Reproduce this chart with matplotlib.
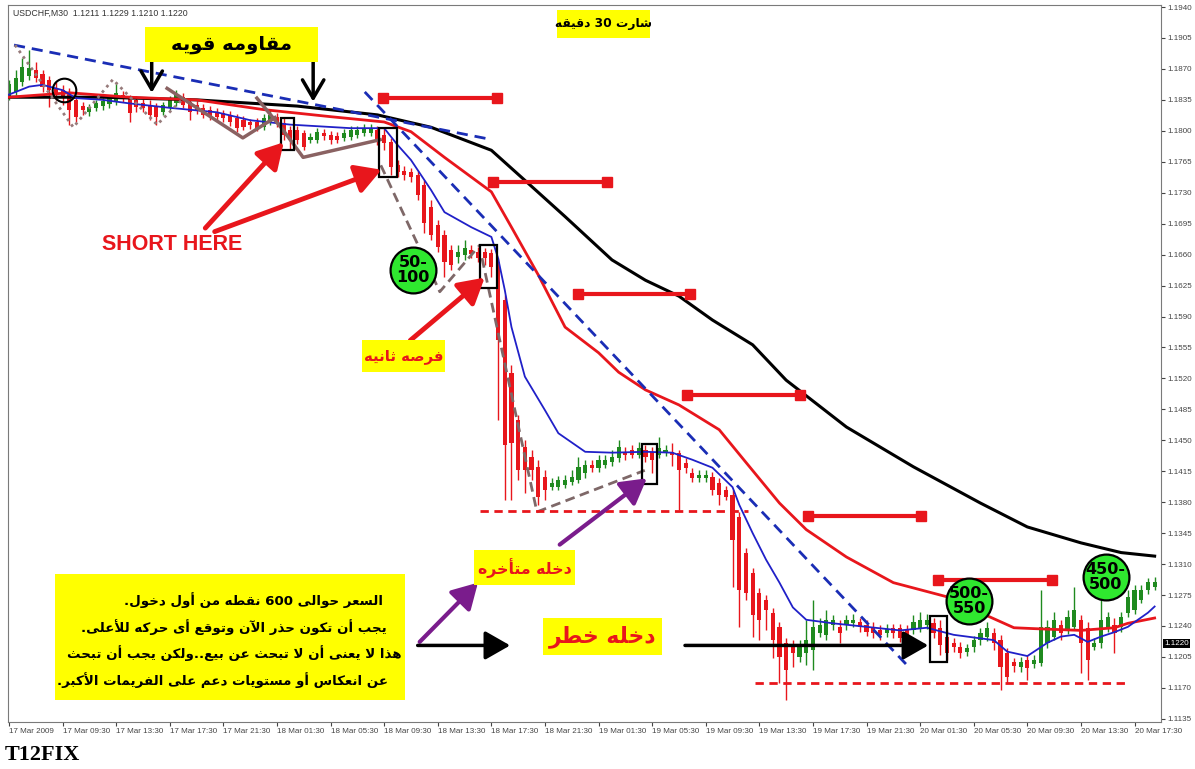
import matplotlib
matplotlib.use("Agg")
import matplotlib.pyplot as plt
import matplotlib.transforms as mtransforms
from matplotlib.patches import Rectangle
import numpy as np

plt.rcParams["font.family"] = ["DejaVu Sans"]

# --- USDCHF M30 candles (prices in points, /1e4 below) ----------------------
bar_open = [
    11837, 11844, 11855, 11862, 11869, 11864, 11857, 11848, 11846, 11842, 11835,
    11828, 11821, 11826, 11828, 11830, 11833, 11841, 11837,
    11835, 11831, 11829, 11827, 11821, 11827, 11831, 11838, 11833, 11829, 11826,
    11824, 11821, 11820, 11818, 11814, 11812, 11810, 11810,
    11804, 11810, 11816, 11809, 11801, 11801, 11798, 11790, 11790, 11798, 11795,
    11794, 11792, 11793, 11795, 11798, 11798,
    11801, 11795, 11787, 11761, 11755, 11753, 11750, 11739, 11714, 11693, 11682,
    11665, 11657, 11660, 11665, 11663, 11663, 11662, 11652, 11609, 11526, 11473,
    11442, 11431, 11420, 11409,
    11397, 11397, 11400, 11403, 11405, 11413, 11422, 11419, 11422, 11425, 11430,
    11437, 11439, 11433, 11439, 11437, 11433, 11437, 11437, 11436, 11424, 11413,
    11407, 11407, 11409, 11402,
    11394, 11388, 11363, 11323, 11300, 11277, 11269, 11255, 11239, 11221, 11216,
    11205, 11209, 11213, 11232, 11230, 11241, 11239, 11241, 11243, 11245, 11241,
    11239, 11235, 11232, 11238, 11238, 11235, 11235, 11238, 11241, 11243, 11238,
    11228, 11221, 11216, 11211, 11216, 11224, 11228, 11232, 11224, 11209, 11199,
    11194, 11202, 11197, 11198, 11221, 11228, 11241, 11235, 11239, 11247, 11238,
    11216, 11221, 11239, 11241, 11239, 11255, 11258, 11269, 11281, 11284,
]
bar_close = [
    11853, 11860, 11872, 11871, 11860, 11850, 11846, 11841, 11837, 11824, 11816,
    11824, 11827, 11831, 11834, 11837, 11843, 11837, 11820,
    11827, 11826, 11818, 11816, 11829, 11835, 11841, 11829, 11821, 11824, 11818,
    11817, 11816, 11814, 11810, 11803, 11804, 11807, 11803,
    11814, 11818, 11809, 11795, 11790, 11790, 11782, 11793, 11799, 11794, 11790,
    11790, 11798, 11801, 11801, 11803, 11803,
    11790, 11786, 11759, 11753, 11750, 11748, 11727, 11696, 11682, 11669, 11652,
    11648, 11663, 11667, 11661, 11656, 11656, 11646, 11563, 11445, 11447, 11416,
    11416, 11416, 11386, 11394,
    11402, 11405, 11405, 11409, 11420, 11422, 11419, 11428, 11428, 11431, 11442,
    11433, 11433, 11441, 11431, 11428, 11441, 11439, 11433, 11416, 11419, 11407,
    11411, 11411, 11394, 11388,
    11386, 11337, 11281, 11277, 11252, 11247, 11258, 11224, 11205, 11190, 11209,
    11216, 11224, 11239, 11241, 11247, 11247, 11232, 11247, 11247, 11239, 11233,
    11232, 11230, 11237, 11232, 11226, 11226, 11245, 11247, 11247, 11232, 11218,
    11209, 11216, 11209, 11215, 11224, 11232, 11238, 11221, 11194, 11182, 11195,
    11199, 11192, 11202, 11239, 11239, 11247, 11232, 11250, 11258, 11221, 11202,
    11221, 11247, 11250, 11232, 11250, 11273, 11281, 11281, 11290, 11290,
]
bar_high = [
    11857, 11869, 11882, 11891, 11878, 11869, 11862, 11855, 11852, 11848, 11841,
    11833, 11830, 11835, 11837, 11841, 11855, 11845, 11841,
    11839, 11836, 11835, 11831, 11833, 11839, 11846, 11843, 11837, 11834, 11830,
    11828, 11826, 11824, 11822, 11819, 11817, 11813, 11814,
    11819, 11824, 11820, 11814, 11805, 11805, 11801, 11798, 11803, 11802, 11800,
    11799, 11802, 11805, 11805, 11808, 11808,
    11805, 11803, 11792, 11767, 11760, 11758, 11755, 11744, 11722, 11699, 11688,
    11671, 11671, 11676, 11671, 11669, 11668, 11666, 11656, 11614, 11535, 11479,
    11450, 11439, 11428, 11416,
    11407, 11410, 11411, 11416, 11431, 11428, 11428, 11433, 11433, 11439, 11450,
    11442, 11445, 11448, 11445, 11442, 11454, 11445, 11447, 11439, 11430, 11419,
    11416, 11416, 11414, 11407,
    11398, 11394, 11369, 11328, 11306, 11283, 11275, 11260, 11245, 11226, 11224,
    11224, 11247, 11269, 11249, 11258, 11252, 11247, 11252, 11254, 11249, 11247,
    11245, 11241, 11242, 11242, 11242, 11241, 11252, 11256, 11254, 11249, 11247,
    11235, 11226, 11222, 11220, 11229, 11238, 11245, 11238, 11230, 11215, 11204,
    11205, 11207, 11207, 11281, 11247, 11256, 11247, 11258, 11284, 11252, 11245,
    11226, 11283, 11256, 11249, 11256, 11281, 11286, 11286, 11294, 11295,
]
bar_low = [
    11835, 11841, 11851, 11857, 11855, 11844, 11827, 11835, 11829, 11807, 11810,
    11818, 11817, 11822, 11824, 11826, 11829, 11833, 11810,
    11821, 11821, 11812, 11807, 11818, 11824, 11828, 11826, 11812, 11819, 11814,
    11812, 11811, 11810, 11805, 11799, 11801, 11802, 11800,
    11801, 11807, 11804, 11790, 11778, 11785, 11778, 11786, 11786, 11790, 11785,
    11786, 11788, 11790, 11792, 11794, 11794,
    11784, 11778, 11750, 11748, 11744, 11742, 11722, 11684, 11676, 11663, 11635,
    11643, 11651, 11654, 11656, 11652, 11648, 11635, 11473, 11382, 11382, 11405,
    11390, 11405, 11377, 11382,
    11394, 11394, 11396, 11399, 11402, 11407, 11414, 11414, 11419, 11421, 11425,
    11428, 11430, 11430, 11425, 11413, 11430, 11432, 11421, 11371, 11413, 11403,
    11403, 11403, 11388, 11377,
    11382, 11284, 11239, 11269, 11228, 11224, 11235, 11204, 11175, 11156, 11194,
    11199, 11196, 11190, 11228, 11224, 11235, 11221, 11235, 11239, 11233, 11229,
    11226, 11224, 11228, 11226, 11222, 11222, 11231, 11233, 11237, 11226, 11207,
    11201, 11211, 11204, 11206, 11211, 11218, 11223, 11213, 11168, 11176, 11188,
    11188, 11179, 11192, 11195, 11215, 11224, 11224, 11231, 11235, 11187, 11179,
    11213, 11215, 11233, 11209, 11233, 11250, 11254, 11266, 11276, 11281,
]

# --- moving averages read at sample bars ------------------------------------
slow_ma_bars = [0, 14, 28, 43, 55, 63, 72, 77, 83, 90, 95, 100, 105, 111, 116,
                125, 135, 145, 152, 160, 166, 171]
slow_ma = [11838, 11838, 11835, 11828, 11818, 11804, 11778, 11744, 11703, 11654,
           11631, 11613, 11586, 11558, 11518, 11465, 11420, 11379, 11352, 11334,
           11323, 11319]
mid_ma_bars = [0, 9, 18, 28, 38, 48, 56, 60, 65, 72, 75, 79, 83, 88, 91, 95, 100,
               106, 110, 115, 119, 125, 132, 140, 145, 150, 153, 160, 165, 167, 171]
mid_ma = [11838, 11843, 11838, 11835, 11824, 11816, 11810, 11799, 11770, 11731,
          11691, 11637, 11578, 11549, 11527, 11507, 11490, 11462, 11425, 11379,
          11349, 11318, 11289, 11273, 11255, 11238, 11237, 11235, 11238, 11243,
          11249]
fast_ma_bars = [0, 3, 5, 8, 10, 14, 18, 24, 31, 36, 42, 51, 56, 58, 60, 63, 65, 69,
                72, 73, 74, 75, 77, 80, 82, 86, 90, 95, 99, 102, 105, 108, 109, 111,
                113, 115, 117, 119, 123, 128, 133, 137, 141, 145, 147, 149, 152, 155,
                157, 159, 161, 163, 165, 167, 170, 171]
fast_ma = [11841, 11850, 11852, 11846, 11837, 11835, 11831, 11826, 11821, 11812,
           11807, 11803, 11803, 11784, 11767, 11733, 11708, 11691, 11680, 11656,
           11620, 11578, 11522, 11484, 11458, 11437, 11436, 11437, 11436, 11428,
           11419, 11397, 11377, 11345, 11315, 11289, 11261, 11247, 11243, 11239,
           11235, 11238, 11230, 11226, 11224, 11211, 11206, 11221, 11228, 11230,
           11222, 11228, 11233, 11239, 11255, 11262]

time_labels = ["17 Mar 2009", "17 Mar 09:30", "17 Mar 13:30", "17 Mar 17:30",
               "17 Mar 21:30", "18 Mar 01:30", "18 Mar 05:30", "18 Mar 09:30",
               "18 Mar 13:30", "18 Mar 17:30", "18 Mar 21:30", "19 Mar 01:30",
               "19 Mar 05:30", "19 Mar 09:30", "19 Mar 13:30", "19 Mar 17:30",
               "19 Mar 21:30", "20 Mar 01:30", "20 Mar 05:30", "20 Mar 09:30",
               "20 Mar 13:30", "20 Mar 17:30"]
price_ticks = list(range(11135, 11941, 35))

# --- tiny Arabic shaper (presentation forms + RTL order) ---------------------
FORMS = {
    "ء": (0xFE80, 1), "آ": (0xFE81, 2), "أ": (0xFE83, 2), "ؤ": (0xFE85, 2),
    "إ": (0xFE87, 2), "ئ": (0xFE89, 4), "ا": (0xFE8D, 2), "ب": (0xFE8F, 4),
    "ة": (0xFE93, 2), "ت": (0xFE95, 4), "ث": (0xFE99, 4), "ج": (0xFE9D, 4),
    "ح": (0xFEA1, 4), "خ": (0xFEA5, 4), "د": (0xFEA9, 2), "ذ": (0xFEAB, 2),
    "ر": (0xFEAD, 2), "ز": (0xFEAF, 2), "س": (0xFEB1, 4), "ش": (0xFEB5, 4),
    "ص": (0xFEB9, 4), "ض": (0xFEBD, 4), "ط": (0xFEC1, 4), "ظ": (0xFEC5, 4),
    "ع": (0xFEC9, 4), "غ": (0xFECD, 4), "ف": (0xFED1, 4), "ق": (0xFED5, 4),
    "ك": (0xFED9, 4), "ل": (0xFEDD, 4), "م": (0xFEE1, 4), "ن": (0xFEE5, 4),
    "ه": (0xFEE9, 4), "و": (0xFEED, 2), "ى": (0xFEEF, 2), "ي": (0xFEF1, 4),
}
LAM_ALEF = {"آ": (0xFEF5, 0xFEF6), "أ": (0xFEF7, 0xFEF8),
            "إ": (0xFEF9, 0xFEFA), "ا": (0xFEFB, 0xFEFC)}


def _joins_fwd(t):
    return len(t) == 1 and FORMS.get(t, (0, 0))[1] == 4


def _joins_back(t):
    return len(t) == 2 or (t in FORMS and FORMS[t][1] > 1)


def _shape_line(line):
    tokens, i = [], 0
    while i < len(line):
        if line[i] == "ل" and i + 1 < len(line) and line[i + 1] in LAM_ALEF:
            tokens.append(line[i:i + 2])
            i += 2
        else:
            tokens.append(line[i])
            i += 1
    glyphs = []
    for k, t in enumerate(tokens):
        prev = tokens[k - 1] if k > 0 else ""
        nxt = tokens[k + 1] if k + 1 < len(tokens) else ""
        if len(t) == 2:
            iso, fin = LAM_ALEF[t[1]]
            glyphs.append(chr(fin if _joins_fwd(prev) else iso))
            continue
        if t not in FORMS:
            glyphs.append(t)
            continue
        base, n = FORMS[t]
        jp = n > 1 and _joins_fwd(prev)
        jn = n == 4 and _joins_back(nxt)
        form = 3 if (jp and jn) else 1 if jp else 2 if jn else 0
        glyphs.append(chr(base + form))
    out, run = [], []
    for g in glyphs[::-1]:
        if g.isascii() and g.isalnum():
            run.append(g)
        else:
            out.extend(run[::-1])
            run = []
            out.append(g)
    out.extend(run[::-1])
    return "".join(out)


def ar(text):
    return "\n".join(_shape_line(l) for l in text.split("\n"))


def P(v):
    return np.asarray(v, dtype=float) / 1e4


RED = "#E8161C"
GREEN = "#1F8A1F"
YELLOW = "#FFFF00"
BLUE_DASH = "#1A2DB5"

fig = plt.figure(figsize=(11.95, 7.69), dpi=100)
ax = fig.add_axes([8 / 1195, 1 - 722 / 769, 1153 / 1195, 717 / 769])

# --- candles -----------------------------------------------------------------
o, c, h, l = P(bar_open), P(bar_close), P(bar_high), P(bar_low)
x = np.arange(len(o))
up = c >= o
col = np.where(up, GREEN, RED)
ax.vlines(x, l, h, colors=col, lw=1, zorder=2)
body = np.where(np.abs(c - o) < 0.00004, 0.00004, c - o)
ax.bar(x, body, bottom=o, width=0.62, color=col, zorder=2.1)

# --- moving averages ---------------------------------------------------------
ax.plot(slow_ma_bars, P(slow_ma), color="black", lw=2.2, zorder=3)
ax.plot(mid_ma_bars, P(mid_ma), color=RED, lw=2.0, zorder=3)
ax.plot(fast_ma_bars, P(fast_ma), color="#2020C8", lw=1.3, zorder=3)

# --- drawn objects -----------------------------------------------------------
dash = (0, (4, 2.5))
ax.plot([0.75, 72.1], [1.1897, 1.1790], color=BLUE_DASH, lw=2, ls=dash, zorder=4)
ax.plot([53.1, 134.0], [1.1844, 1.1196], color=BLUE_DASH, lw=2, ls=dash, zorder=4)

brown = "#8A6262"
ax.plot([23.6, 34.9, 39.7], [1.1848, 1.1792, 1.1815], color=brown, lw=2.5, zorder=4)
ax.plot([37.0, 40.9, 43.9, 55.4], [1.1837, 1.1801, 1.1770, 1.1790],
        color=brown, lw=2.5, zorder=4)
ax.plot([0.9, 9.6, 15.5, 22.1, 25.8], [1.1897, 1.1804, 1.1858, 1.1807, 1.1835],
        color="#977B7B", lw=2, ls=(0, (1, 1.5)), zorder=4)
gray_dash = "#7E6868"
ax.plot([55.5, 64.3, 70.3], [1.1761, 1.1618, 1.1671], color=gray_dash, lw=2,
        ls=(0, (3.5, 2)), zorder=4)
ax.plot([70.6, 78.8, 94.9], [1.1656, 1.1369, 1.1416], color=gray_dash, lw=2,
        ls=(0, (3.5, 2)), zorder=4)

for x0, x1, yv in [(55.8, 72.8, 1.1837), (72.2, 89.3, 1.1742), (84.9, 101.6, 1.1615),
                   (101.2, 118.1, 1.1501), (119.3, 136.1, 1.1364),
                   (138.7, 155.7, 1.1292)]:
    ax.plot([x0, x1], [yv, yv], color=RED, lw=3, marker="s", ms=6.5, zorder=4)

ax.plot([70.3, 110.3], [1.1370, 1.1370], color=RED, lw=2, ls=(0, (3, 2)), zorder=4)
ax.plot([111.3, 166.6], [1.1175, 1.1175], color=RED, lw=2, ls=(0, (3, 2)), zorder=4)

for x0, x1, y0, y1 in [(40.6, 42.5, 1.1778, 1.1814), (55.2, 57.9, 1.1748, 1.1803),
                       (70.3, 72.8, 1.1622, 1.1671), (94.5, 96.7, 1.1401, 1.1446),
                       (137.5, 140.0, 1.1199, 1.1251)]:
    ax.add_patch(Rectangle((x0, y0), x1 - x0, y1 - y0, fill=False, ec="black",
                           lw=1.6, zorder=5))
ax.plot([8.2], [1.1846], marker="o", ms=17, mfc="none", mec="black", mew=1.5,
        zorder=5)


def arrow(tail, head, color, lw, style="-|>,head_length=0.7,head_width=0.4",
          scale=22):
    ax.annotate("", xy=head, xytext=tail, zorder=6,
                arrowprops=dict(arrowstyle=style, color=color, lw=lw,
                                shrinkA=0, shrinkB=0, mutation_scale=scale))


arrow((29.3, 1.1690), (41.0, 1.1787), RED, 3.5)
arrow((30.7, 1.1686), (55.6, 1.1756), RED, 3.5)
arrow((59.9, 1.1563), (71.0, 1.1634), RED, 3.5)
arrow((61.3, 1.1222), (70.0, 1.1289), "#7A1C8C", 3)
arrow((82.2, 1.1332), (95.2, 1.1407), "#7A1C8C", 3)
arrow((61.0, 1.1218), (74.8, 1.1218), "black", 2.5)
arrow((100.9, 1.1218), (137.2, 1.1218), "black", 2.5)
arrow((21.3, 1.1891), (21.3, 1.1843), "black", 2.5, "->,head_length=0.6,head_width=0.35")
arrow((45.4, 1.1888), (45.4, 1.1833), "black", 2.5, "->,head_length=0.6,head_width=0.35")

# --- text boxes --------------------------------------------------------------
def label_box(x0, x1, y0, y1, text, color, size):
    ax.add_patch(Rectangle((x0, y0), x1 - x0, y1 - y0, fc=YELLOW, ec="none",
                           zorder=7))
    ax.text((x0 + x1) / 2, (y0 + y1) / 2, ar(text), color=color, fontsize=size,
            fontweight="bold", ha="center", va="center", zorder=8)


label_box(20.3, 46.1, 1.1878, 1.1917, "مقاومه قويه", "black", 14)
label_box(81.8, 95.7, 1.1905, 1.1937, "شارت 30 دقيقه", "black", 8.8)
label_box(52.7, 65.1, 1.1527, 1.1563, "فرصه ثانيه", RED, 10.7)
label_box(69.4, 84.5, 1.1286, 1.1326, "دخله متأخره", RED, 11.3)
label_box(79.7, 97.5, 1.1207, 1.1249, "دخله خطر", RED, 15.8)

ax.add_patch(Rectangle((6.9, 1.1156), 52.2, 0.0143, fc=YELLOW, ec="none", zorder=7))
note_lines = ["السعر حوالى 600 نقطه من أول دخول.",
              "يجب أن تكون حذر الآن وتوقع أى حركه للأعلى.",
              "هذا لا يعنى أن لا تبحث عن بيع..ولكن يجب أن تبحث",
              "عن انعكاس أو مستويات دعم على الفريمات الأكبر."]
note_right = [55.8, 56.4, 58.6, 56.5]
note_y = [1.1269, 1.1239, 1.1209, 1.1179]
for line, xr, yl in zip(note_lines, note_right, note_y):
    ax.text(xr, yl, ar(line), fontsize=9.6, fontweight="bold", ha="right",
            va="center", zorder=8)

ax.text(24.3, 1.1671, "SHORT HERE", color=RED, fontsize=15.5, fontweight="bold",
        family=["Liberation Sans", "DejaVu Sans"], ha="center", va="center",
        zorder=8)

for cx, cy, txt in [(60.3, 1.1643, "50-\n100"), (143.3, 1.1268, "500-\n550"),
                    (163.7, 1.1295, "450-\n500")]:
    ax.plot([cx], [cy], marker="o", ms=33, mfc="#2FE82F", mec="black", mew=1.6,
            zorder=8)
    ax.text(cx, cy, txt, fontsize=11.5, fontweight="bold", ha="center",
            va="center", linespacing=1.0, zorder=9)

ax.text(0.004, 0.989, "USDCHF,M30  1.1211 1.1229 1.1210 1.1220", fontsize=6.3,
        color="#333333", transform=ax.transAxes, ha="left", va="center",
        family=["Liberation Sans", "DejaVu Sans"])

# --- axes styling --------------------------------------------------------------
ax.set_xlim(-0.15, 171.95)
ax.set_ylim(1.11314, 1.19423)
ax.yaxis.tick_right()
ax.set_yticks(P(price_ticks))
ax.set_yticklabels([f"{v / 1e4:.4f}" for v in price_ticks])
ax.set_xticks(range(0, 8 * len(time_labels), 8))
ax.set_xticklabels(time_labels, ha="left")
ax.tick_params(axis="both", labelsize=5.8, length=3, colors="#444444", pad=1.5)
for lab in ax.get_xticklabels() + ax.get_yticklabels():
    lab.set_fontfamily(["Liberation Sans", "DejaVu Sans"])
for sp in ax.spines.values():
    sp.set_color("#7a7a7a")

trans = mtransforms.blended_transform_factory(ax.transAxes, ax.transData)
ax.text(1.003, 1.1220, "1.1220", transform=trans, fontsize=5.8, color="white",
        ha="left", va="center", zorder=10,
        family=["Liberation Sans", "DejaVu Sans"],
        bbox=dict(boxstyle="square,pad=0.15", fc="black", ec="none"))

fig.text(5 / 1195, 1 - 755 / 769, "T12FIX", fontsize=16, fontweight="bold",
         family=["Liberation Serif", "DejaVu Serif"], ha="left", va="center")

fig.savefig("out.png", dpi=100)
